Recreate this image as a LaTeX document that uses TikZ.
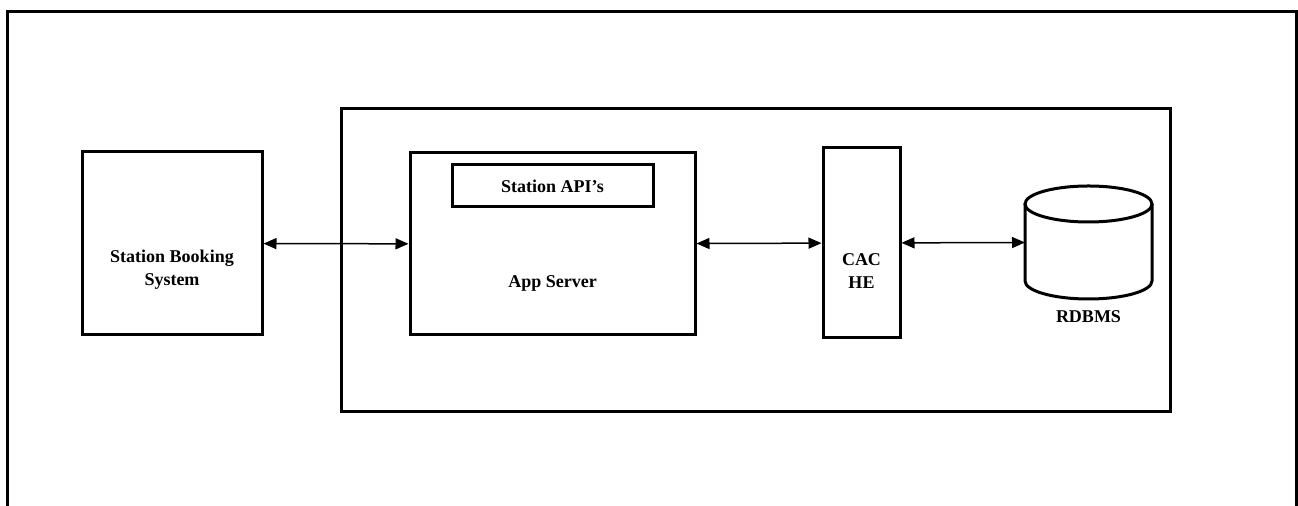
\documentclass[tikz,border=0pt]{standalone}
\usepackage{fontspec}
\setmainfont{Liberation Serif}
\usetikzlibrary{positioning}
\usetikzlibrary{arrows.meta}

\begin{document}
\begin{tikzpicture}[
  x=0.5pt, y=0.5pt,
  font=\fontsize{9}{11.5}\selectfont\bfseries,
  box/.style={draw, line width=1.5pt, inner sep=0pt, minimum width=#1},
  frame/.style={line width=1.5pt},
  txt/.style={align=center, inner sep=0pt},
  arrow/.style={{Triangle[length=6.5pt,width=5.5pt]}-{Triangle[length=6.5pt,width=5.5pt]}, line width=0.75pt}
]
\useasboundingbox (0,0) rectangle (1298,-506);

% outer frame, open at the bottom
\draw[frame] (7,-506) -- (7,-11.5) -- (1296,-11.5) -- (1296,-506);

% server side container
\node[box=829pt/2, minimum height=303pt/2] (srv) at (755.5,-260.5) {};

\node[box=180pt/2, minimum height=183pt/2] (sbs) at (172,-243.5) {};
\node[txt] (sbst) at (172,-270) {Station Booking\\System};

\node[box=285pt/2, minimum height=182pt/2] (app) at (552.5,-244) {};
\node[box=201pt/2, minimum height=42pt/2] (api) at (552.5,-186) {Station API’s};
\node[txt] (appt) at (552.5,-283) {App Server};

\node[box=77pt/2, minimum height=190pt/2] (cache) at (861.5,-243) {};
\node[txt] (cachet) at (861.5,-271) {CAC\\HE};

% database drum
\coordinate (rdb) at (1025,-242.5);
\draw[frame] (1088.5,-204) ellipse [x radius=31.75pt, y radius=9pt];
\draw[frame] (1025,-204) -- (1025,-281)
  arc [start angle=180, end angle=360, x radius=31.75pt, y radius=9pt] -- (1152,-204);
\node[txt] (rdbt) at (1088.5,-317) {RDBMS};

\draw[arrow] (sbs) -- (app);
\draw[arrow] (app) -- (cache);
\draw[arrow] (cache) -- (rdb);

\end{tikzpicture}
\end{document}
